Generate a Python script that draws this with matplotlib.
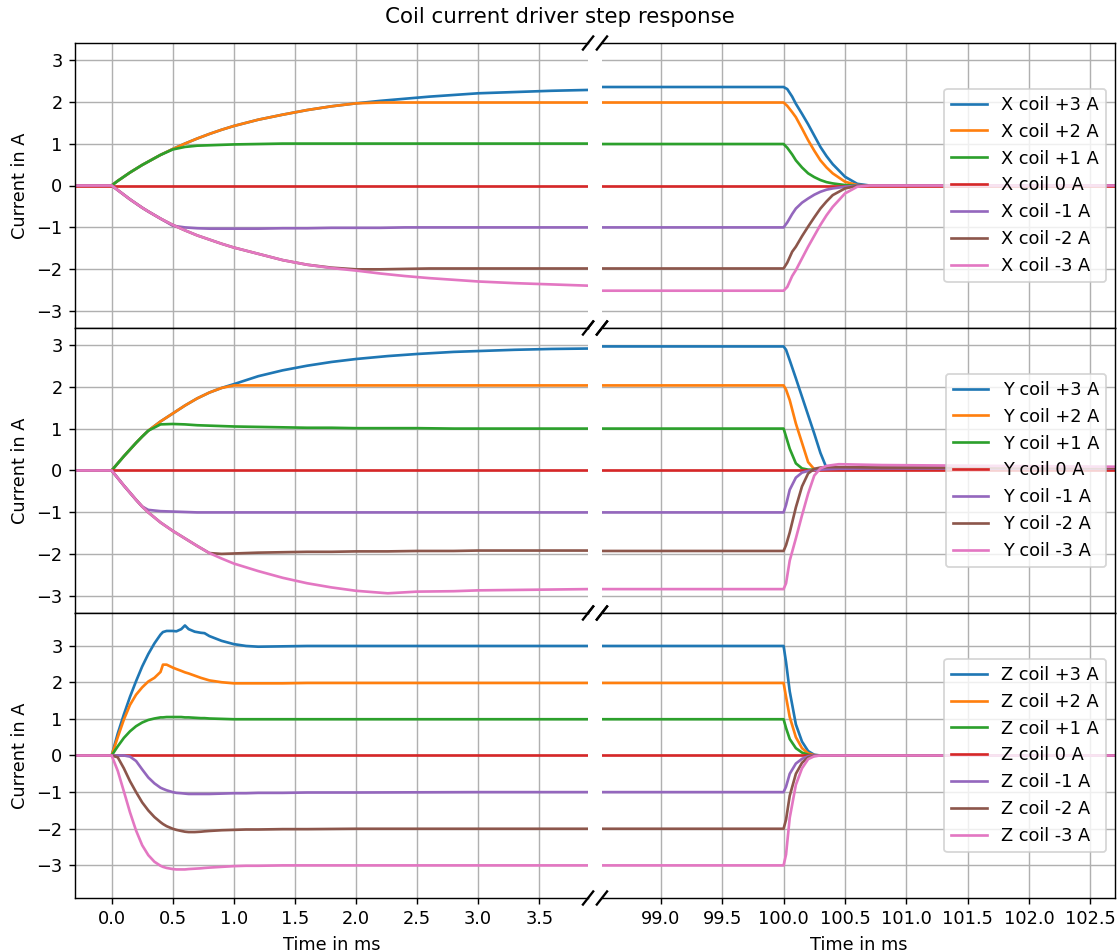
import matplotlib
matplotlib.use('Agg')
import matplotlib.pyplot as plt
from matplotlib.ticker import MultipleLocator

# ── Measured coil currents (A) vs time (ms) ──────────────────────────────────
# Each row has its own time grid: the step-on part (left) followed by the
# step-off part around 100 ms (right).
t_x = [-0.3, 0.0, 0.05, 0.1, 0.15, 0.2, 0.25, 0.3, 0.4, 0.5, 0.6, 0.7, 0.8, 0.9,
       1.0, 1.2, 1.4, 1.6, 1.8, 2.0, 2.2, 2.4, 2.6, 2.8, 3.0, 3.3, 3.6, 3.9,
       98.5, 100.0, 100.03, 100.07, 100.1, 100.15, 100.2, 100.25, 100.3, 100.35, 100.4,
       100.5, 100.6, 100.7, 102.7]

x_p3 = [0, 0, 0.11, 0.21, 0.31, 0.40, 0.49, 0.57, 0.73, 0.87, 1.00, 1.12, 1.23, 1.33,
        1.42, 1.57, 1.69, 1.80, 1.89, 1.96, 2.02, 2.07, 2.12, 2.16, 2.20, 2.23, 2.26, 2.28,
        2.35, 2.35, 2.30, 2.12, 1.95, 1.71, 1.46, 1.19, 0.92, 0.70, 0.51,
        0.21, 0.04, 0.0, 0.0]
x_p2 = [0, 0, 0.11, 0.21, 0.31, 0.40, 0.49, 0.57, 0.73, 0.87, 1.00, 1.12, 1.23, 1.33,
        1.42, 1.57, 1.69, 1.80, 1.89, 1.96, 1.98, 1.98, 1.98, 1.98, 1.98, 1.98, 1.98, 1.98,
        1.98, 1.98, 1.90, 1.75, 1.63, 1.36, 1.08, 0.83, 0.60, 0.43, 0.29,
        0.09, 0.01, 0.0, 0.0]
x_p1 = [0, 0, 0.11, 0.21, 0.31, 0.40, 0.49, 0.57, 0.73, 0.86, 0.92, 0.95, 0.96, 0.97,
        0.98, 0.99, 1.0, 1.0, 1.0, 1.0, 1.0, 1.0, 1.0, 1.0, 1.0, 1.0, 1.0, 1.0,
        0.99, 0.99, 0.90, 0.74, 0.60, 0.43, 0.29, 0.20, 0.13, 0.08, 0.05,
        0.01, 0.0, 0.0, 0.0]
x_0 = [0.0] * 43
x_m1 = [0, 0, -0.11, -0.22, -0.33, -0.43, -0.53, -0.62, -0.79, -0.96, -1.00, -1.02, -1.03, -1.03,
        -1.03, -1.03, -1.02, -1.02, -1.01, -1.01, -1.01, -1.0, -1.0, -1.0, -1.0, -1.0, -1.0, -1.0,
        -1.0, -1.0, -0.88, -0.68, -0.55, -0.41, -0.31, -0.22, -0.15, -0.10, -0.07,
        -0.03, 0.0, 0.0, 0.0]
x_m2 = [0, 0, -0.11, -0.22, -0.33, -0.43, -0.53, -0.62, -0.79, -0.94, -1.07, -1.19, -1.29, -1.39,
        -1.48, -1.63, -1.78, -1.89, -1.96, -2.0, -2.0, -1.99, -1.98, -1.98, -1.98, -1.98, -1.98, -1.98,
        -1.98, -1.98, -1.84, -1.58, -1.46, -1.21, -0.98, -0.76, -0.55, -0.38, -0.23,
        -0.07, -0.01, 0.0, 0.0]
x_m3 = [0, 0, -0.11, -0.22, -0.33, -0.43, -0.53, -0.62, -0.79, -0.94, -1.07, -1.19, -1.29, -1.39,
        -1.48, -1.63, -1.78, -1.89, -1.97, -2.03, -2.10, -2.16, -2.21, -2.25, -2.29, -2.33, -2.36, -2.39,
        -2.51, -2.51, -2.42, -2.16, -2.02, -1.74, -1.46, -1.20, -0.94, -0.71, -0.51,
        -0.19, -0.03, 0.0, 0.0]

t_y = [-0.3, 0.0, 0.05, 0.1, 0.15, 0.2, 0.25, 0.3, 0.4, 0.5, 0.6, 0.7, 0.8, 0.9,
       1.0, 1.2, 1.4, 1.6, 1.8, 2.0, 2.26, 2.5, 2.8, 3.0, 3.3, 3.6, 3.9,
       98.5, 100.0, 100.02, 100.05, 100.1, 100.15, 100.2, 100.25, 100.3, 100.35, 100.45, 100.8, 102.7]

y_p3 = [0, 0, 0.17, 0.34, 0.50, 0.66, 0.81, 0.95, 1.17, 1.36, 1.55, 1.72, 1.86, 1.97,
        2.06, 2.25, 2.39, 2.50, 2.59, 2.66, 2.73, 2.78, 2.83, 2.85, 2.88, 2.90, 2.91,
        2.96, 2.96, 2.88, 2.63, 2.20, 1.76, 1.32, 0.88, 0.42, 0.06, 0.06, 0.07, 0.07]
y_p2 = [0, 0, 0.17, 0.34, 0.50, 0.66, 0.81, 0.95, 1.17, 1.36, 1.55, 1.72, 1.86, 1.97,
        2.03, 2.03, 2.03, 2.03, 2.03, 2.03, 2.03, 2.03, 2.03, 2.03, 2.03, 2.03, 2.03,
        2.03, 2.03, 1.93, 1.68, 1.12, 0.66, 0.20, 0.03, 0.04, 0.04, 0.05, 0.06, 0.06]
y_p1 = [0, 0, 0.17, 0.34, 0.50, 0.66, 0.81, 0.95, 1.10, 1.11, 1.10, 1.08, 1.07, 1.06,
        1.05, 1.04, 1.03, 1.02, 1.02, 1.01, 1.01, 1.01, 1.0, 1.0, 1.0, 1.0, 1.0,
        1.0, 1.0, 0.81, 0.52, 0.17, 0.05, 0.02, 0.02, 0.03, 0.03, 0.04, 0.05, 0.05]
y_0 = [0.0] * 40
y_m1 = [0, 0, -0.18, -0.36, -0.53, -0.70, -0.86, -0.94, -0.97, -0.98, -0.99, -1.0, -1.0, -1.0,
        -1.0, -1.0, -1.0, -1.0, -1.0, -1.0, -1.0, -1.0, -1.0, -1.0, -1.0, -1.0, -1.0,
        -1.0, -1.0, -0.82, -0.46, -0.17, -0.05, -0.01, 0.01, 0.02, 0.03, 0.04, 0.05, 0.05]
y_m2 = [0, 0, -0.18, -0.36, -0.53, -0.70, -0.86, -1.00, -1.24, -1.44, -1.62, -1.80, -1.97, -1.99,
        -1.98, -1.96, -1.95, -1.94, -1.94, -1.93, -1.93, -1.92, -1.92, -1.91, -1.91, -1.91, -1.91,
        -1.92, -1.92, -1.78, -1.48, -0.88, -0.38, -0.07, 0.04, 0.07, 0.08, 0.08, 0.07, 0.06]
y_m3 = [0, 0, -0.18, -0.36, -0.53, -0.70, -0.86, -1.00, -1.24, -1.44, -1.62, -1.80, -1.97, -2.10,
        -2.22, -2.40, -2.56, -2.69, -2.79, -2.87, -2.93, -2.89, -2.88, -2.86, -2.85, -2.84, -2.83,
        -2.83, -2.83, -2.69, -2.15, -1.62, -1.07, -0.55, -0.12, 0.05, 0.11, 0.15, 0.13, 0.09]

t_z = [-0.3, 0.0, 0.05, 0.1, 0.15, 0.2, 0.25, 0.3, 0.35, 0.4, 0.42, 0.45, 0.5, 0.53, 0.57,
       0.6, 0.63, 0.68, 0.73, 0.76, 0.8, 0.9, 1.0, 1.1, 1.2, 1.4, 1.6, 2.0, 3.0, 3.9,
       98.5, 100.0, 100.02, 100.05, 100.1, 100.15, 100.2, 100.25, 100.3, 102.7]

z_p3 = [0, 0, 0.60, 1.12, 1.60, 2.03, 2.43, 2.77, 3.06, 3.30, 3.37, 3.40, 3.40, 3.39, 3.45,
        3.55, 3.45, 3.38, 3.35, 3.34, 3.26, 3.13, 3.04, 2.99, 2.97, 2.98, 2.99, 2.99, 2.99, 2.99,
        2.99, 2.99, 2.55, 1.75, 0.85, 0.38, 0.12, 0.02, 0.0, 0.0]
z_p2 = [0, 0, 0.50, 0.98, 1.38, 1.66, 1.86, 2.02, 2.12, 2.28, 2.48, 2.48, 2.40, 2.36, 2.31,
        2.27, 2.24, 2.18, 2.12, 2.09, 2.05, 2.00, 1.97, 1.97, 1.97, 1.97, 1.98, 1.98, 1.98, 1.98,
        1.98, 1.98, 1.60, 1.05, 0.50, 0.20, 0.06, 0.01, 0.0, 0.0]
z_p1 = [0, 0, 0.25, 0.48, 0.66, 0.80, 0.90, 0.97, 1.01, 1.04, 1.04, 1.05, 1.05, 1.05, 1.05,
        1.04, 1.04, 1.03, 1.02, 1.02, 1.01, 1.00, 0.99, 0.99, 0.99, 0.99, 0.99, 0.99, 0.99, 0.99,
        0.99, 0.99, 0.75, 0.45, 0.20, 0.08, 0.02, 0.0, 0.0, 0.0]
z_0 = [0.0] * 40
z_m1 = [0, 0, 0, 0, -0.03, -0.15, -0.38, -0.60, -0.76, -0.88, -0.91, -0.95, -1.00, -1.02, -1.03,
        -1.04, -1.05, -1.05, -1.05, -1.05, -1.05, -1.04, -1.03, -1.03, -1.02, -1.02, -1.01, -1.01, -1.0, -1.0,
        -1.0, -1.0, -0.85, -0.50, -0.22, -0.09, -0.02, 0.0, 0.0, 0.0]
z_m2 = [0, 0, -0.05, -0.35, -0.70, -1.00, -1.28, -1.50, -1.68, -1.82, -1.87, -1.93, -2.00, -2.03, -2.06,
        -2.08, -2.09, -2.09, -2.08, -2.07, -2.06, -2.04, -2.03, -2.02, -2.02, -2.01, -2.01, -2.0, -2.0, -2.0,
        -2.0, -2.0, -1.75, -1.10, -0.50, -0.20, -0.05, -0.01, 0.0, 0.0]
z_m3 = [0, 0, -0.42, -0.98, -1.55, -2.05, -2.45, -2.72, -2.90, -3.01, -3.04, -3.07, -3.10, -3.11, -3.11,
        -3.11, -3.10, -3.09, -3.08, -3.07, -3.06, -3.04, -3.02, -3.01, -3.01, -3.0, -3.0, -3.0, -3.0, -3.0,
        -3.0, -3.0, -2.70, -1.70, -0.80, -0.35, -0.10, -0.02, 0.0, 0.0]

setpoints = ['+3 A', '+2 A', '+1 A', '0 A', '-1 A', '-2 A', '-3 A']
rows = [
    ('X', t_x, [x_p3, x_p2, x_p1, x_0, x_m1, x_m2, x_m3], (-3.4, 3.4)),
    ('Y', t_y, [y_p3, y_p2, y_p1, y_0, y_m1, y_m2, y_m3], (-3.4, 3.4)),
    ('Z', t_z, [z_p3, z_p2, z_p1, z_0, z_m1, z_m2, z_m3], (-3.89, 3.89)),
]
left_ticks = [0.0, 0.5, 1.0, 1.5, 2.0, 2.5, 3.0, 3.5]
right_ticks = [99.0, 99.5, 100.0, 100.5, 101.0, 101.5, 102.0, 102.5]

# ── Figure: broken time axis, one row per coil ───────────────────────────────
DPI = 128
fig, axes = plt.subplots(3, 2, figsize=(1119 / DPI, 952 / DPI), dpi=DPI,
                         sharex='col', sharey='row',
                         gridspec_kw=dict(hspace=0.0, wspace=0.027))
fig.subplots_adjust(left=75 / 1119, right=1115 / 1119,
                    bottom=54 / 952, top=1 - 43 / 952)

dx, dy = 0.01, 0.023
brk = dict(color='k', clip_on=False, lw=1.3)

for r, (coil, t, currents, ylim) in enumerate(rows):
    ax_l, ax_r = axes[r]
    for ax in (ax_l, ax_r):
        for sp, cur in zip(setpoints, currents):
            ax.plot(t, cur, label=f'{coil} coil {sp}')
        ax.grid(True)
        ax.set_ylim(*ylim)
    ax_l.yaxis.set_major_locator(MultipleLocator(1))
    ax_l.set_xticks(left_ticks)
    ax_r.set_xticks(right_ticks)
    ax_l.set_xlim(-0.3, 3.9)
    ax_r.set_xlim(98.52, 102.7)
    ax_l.spines['right'].set_visible(False)
    ax_r.spines['left'].set_visible(False)
    ax_r.tick_params(left=False, labelleft=False, right=False)
    ax_l.set_ylabel('Current in A')
    if r < 2:
        ax_l.tick_params(bottom=False)
        ax_r.tick_params(bottom=False)
    else:
        ax_l.set_xlabel('Time in ms')
        ax_r.set_xlabel('Time in ms')
    ax_r.legend(loc='center right')

    # diagonal break marks at the gap
    for y0 in (0, 1):
        ax_l.plot((1 - dx, 1 + dx), (y0 - dy, y0 + dy), transform=ax_l.transAxes, **brk)
        ax_r.plot((-dx, dx), (y0 - dy, y0 + dy), transform=ax_r.transAxes, **brk)

fig.suptitle('Coil current driver step response', y=1 - 7 / 952, va='top', fontsize=12)
fig.savefig('out.png', dpi=DPI)
